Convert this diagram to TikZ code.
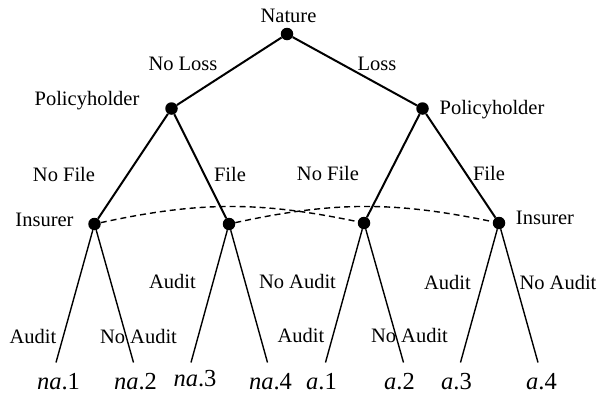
\documentclass[tikz,border=0pt]{standalone}
\usepackage{fontspec}
\setmainfont{Liberation Serif}
\begin{document}
\begin{tikzpicture}[x=1pt,y=-1pt,
  dot/.style={circle,fill=black,inner sep=0pt,minimum size=12.5pt},
  lbl/.style={inner sep=0pt,anchor=base,font=\fontsize{20.5}{24}\selectfont},
  leaf/.style={inner sep=0pt,anchor=base,font=\fontsize{24.5}{28}\selectfont},
  upper/.style={line width=2pt},
  lower/.style={line width=1.4pt},
  info/.style={line width=1.4pt,dash pattern=on 6pt off 4pt}]
\useasboundingbox (0,0) rectangle (598,394);

% decision nodes
\node[dot] (nat) at (287,34) {};
\node[dot] (p1) at (171.5,108.5) {};
\node[dot] (p2) at (422.5,108.5) {};
\node[dot] (i1) at (94.5,224) {};
\node[dot] (i2) at (229,224) {};
\node[dot] (i3) at (364,223) {};
\node[dot] (i4) at (499,223) {};

% terminal points
\coordinate (t1) at (56,362.5);
\coordinate (t2) at (133.5,362.5);
\coordinate (t3) at (191,362.5);
\coordinate (t4) at (267.5,362.5);
\coordinate (t5) at (325.5,362.5);
\coordinate (t6) at (403.5,362.5);
\coordinate (t7) at (460.5,362.5);
\coordinate (t8) at (538,362.5);

% player labels
\node[lbl] (lnat) at (288.5,22.5) {Nature};
\node[lbl] (lp1) at (87,105) {Policyholder};
\node[lbl] (lp2) at (492,114) {Policyholder};
\node[lbl] (li1) at (44.5,226.5) {Insurer};
\node[lbl] (li4) at (545,224) {Insurer};

% branches
\draw[upper] (nat) -- (p1);
\draw[upper] (nat) -- (p2);
\draw[upper] (p1) -- (i1);
\draw[upper] (p1) -- (i2);
\draw[upper] (p2) -- (i3);
\draw[upper] (p2) -- (i4);
\draw[lower] (i1) -- (t1);
\draw[lower] (i1) -- (t2);
\draw[lower] (i2) -- (t3);
\draw[lower] (i2) -- (t4);
\draw[lower] (i3) -- (t5);
\draw[lower] (i3) -- (t6);
\draw[lower] (i4) -- (t7);
\draw[lower] (i4) -- (t8);

% information sets of the insurer
\draw[info] (i1) to[bend left=12] (i3);
\draw[info] (i2) to[bend left=12] (i4);

% action labels
\node[lbl] (aNL) at (183,70.8) {No Loss};
\node[lbl] (aL) at (377,70.8) {Loss};
\node[lbl] (aNF1) at (64,181) {No File};
\node[lbl] (aF1) at (230,181) {File};
\node[lbl] (aNF2) at (328,180) {No File};
\node[lbl] (aF2) at (489,180) {File};
\node[lbl] (aA1) at (33,343.5) {Audit};
\node[lbl] (aN1) at (138.5,343.5) {No Audit};
\node[lbl] (aA2) at (172.5,288.5) {Audit};
\node[lbl] (aN2) at (297.5,288.5) {No Audit};
\node[lbl] (aA3) at (301,342.5) {Audit};
\node[lbl] (aN3) at (409.5,342.5) {No Audit};
\node[lbl] (aA4) at (447.5,289.5) {Audit};
\node[lbl] (aN4) at (558,289.5) {No Audit};

% payoff labels
\node[leaf] (o1) at (58.5,389.5) {\textit{na}.1};
\node[leaf] (o2) at (135.5,389.5) {\textit{na}.2};
\node[leaf] (o3) at (195,386.5) {\textit{na}.3};
\node[leaf] (o4) at (270.5,389.5) {\textit{na}.4};
\node[leaf] (o5) at (321.5,389.5) {\textit{a}.1};
\node[leaf] (o6) at (399.5,389.5) {\textit{a}.2};
\node[leaf] (o7) at (456.5,389.5) {\textit{a}.3};
\node[leaf] (o8) at (541.5,389.5) {\textit{a}.4};
\end{tikzpicture}
\end{document}
